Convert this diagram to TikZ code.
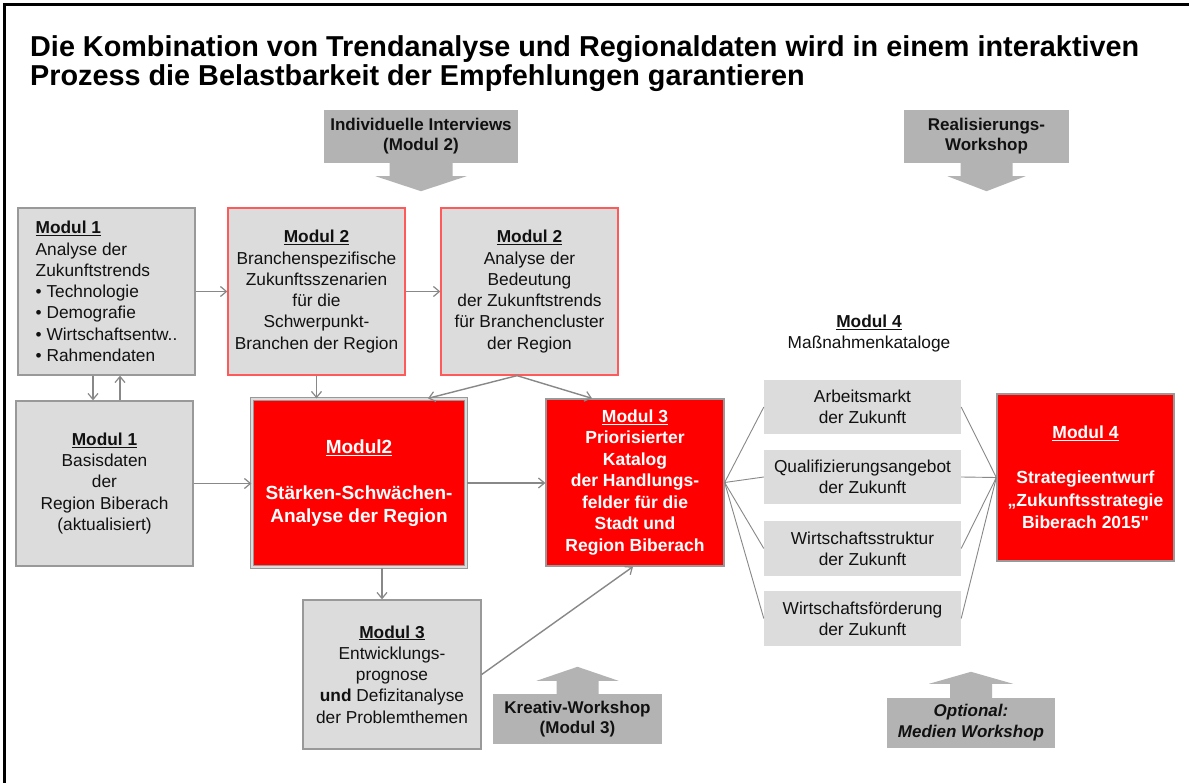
\documentclass[tikz,border=0pt]{standalone}
\usepackage{fontspec}
\setmainfont{Liberation Sans}
\newfontfamily\rawsans{Liberation Sans}
\usetikzlibrary{arrows.meta,calc}
\definecolor{boxgray}{HTML}{DCDCDC}
\definecolor{bordergray}{HTML}{999999}
\definecolor{conngray}{HTML}{888888}
\definecolor{wsgray}{HTML}{B3B3B3}
\definecolor{lightred}{HTML}{FF5A5A}
\definecolor{pured}{HTML}{FF0000}
\definecolor{txt}{HTML}{111111}
\newcommand{\myfs}[2]{\fontsize{#1}{#2}\selectfont}
\newcommand{\blockarrow}[6]{\fill[wsgray] ($(#1)+(-#2,{-1*(#6)})$) -- ($(#1)+(#2,{-1*(#6)})$) -- ($(#1)+(#2,{#4*(#6)})$) -- ($(#1)+(#3,{#4*(#6)})$) -- ($(#1)+(0,{#5*(#6)})$) -- ($(#1)+(-#3,{#4*(#6)})$) -- ($(#1)+(-#2,{#4*(#6)})$) -- cycle;}
\begin{document}
\begin{tikzpicture}[x=1pt,y=-1pt,
  base/.style={inner sep=0pt, align=center, text=txt, font=\myfs{17.3}{21.3}},
  gbox/.style={base, draw=bordergray, line width=1.3pt, fill=boxgray},
  rbox/.style={base, draw=lightred, line width=1.3pt, fill=boxgray},
  redbox/.style={base, draw=bordergray, line width=1.3pt, fill=pured, text=white, font=\bfseries\myfs{17.5}{21.5}},
  catbox/.style={base, fill=boxgray},
  wsbox/.style={base, fill=wsgray, font=\bfseries\myfs{17}{20}},
  conn/.style={draw=conngray, line width=1.4pt, -{Straight Barb[length=6pt,width=10pt,line width=1.2pt]}},
  thinl/.style={draw=conngray, line width=0.9pt},
  titlestyle/.style={anchor=base west, inner sep=0pt, text=black, font=\bfseries\myfs{28.8}{29}}
]
\useasboundingbox (0,0) rectangle (1189,783);
\fill[white] (0,0) rectangle (1189,783);
% frame
\draw[line width=3pt, black] (4.5,783) -- (4.5,5) -- (1189,5);
% title
\node[titlestyle] (t1) at (30,57) {Die Kombination von Trendanalyse und Regionaldaten wird in einem interaktiven};
\node[titlestyle] (t2) at (30,86) {Prozess die Belastbarkeit der Empfehlungen garantieren};

% workshop boxes
\node[wsbox, minimum width=194, minimum height=53] (iv) at (421,136.5) {Individuelle Interviews\\(Modul 2)};
\node[wsbox, minimum width=165, minimum height=53] (rw) at (986.5,136.5) {Realisierungs-\\Workshop};
\node[wsbox, minimum width=169, minimum height=50] (kw) at (577.5,719) {Kreativ-Workshop\\(Modul 3)};
\node[wsbox, minimum width=168, minimum height=50, font=\bfseries\itshape\myfs{17}{21}] (ow) at (971,723) {Optional:\\Medien Workshop};
\blockarrow{iv.south}{31.5}{45.5}{13}{28}{1}
\blockarrow{rw.south}{26}{39}{13}{28}{1}
\blockarrow{kw.north}{21}{41}{13}{27}{-1}
\blockarrow{ow.north}{21}{42}{14}{26}{-1}

% main boxes
\node[gbox, minimum width=177, minimum height=167, align=left] (m1a) at (106.5,291.5) {\underline{\textbf{Modul 1}}\\Analyse der\\Zukunftstrends\\• Technologie\\• Demografie\\• Wirtschaftsentw..\\• Rahmendaten};
\node[rbox, minimum width=177, minimum height=167] (m2a) at (316.5,291.5) {\underline{\textbf{Modul 2}}\\Branchenspezifische\\Zukunftsszenarien\\für die\\Schwerpunkt-\\Branchen der Region};
\node[rbox, minimum width=177, minimum height=167] (m2b) at (529.5,291.5) {\underline{\textbf{Modul 2}}\\Analyse der\\Bedeutung\\der Zukunftstrends\\für Branchencluster\\der Region};
\node[gbox, minimum width=177, minimum height=165] (m1b) at (104.5,483.5) {\underline{\textbf{Modul 1}}\\Basisdaten\\der\\Region Biberach\\(aktualisiert)};
\node[redbox, minimum width=214, minimum height=168, double=boxgray, double distance=2pt, font=\bfseries\myfs{19}{23}] (m2big) at (359,483) {\underline{Modul2}\\[23pt]Stärken-Schwächen-\\Analyse der Region};
\node[redbox, minimum width=178, minimum height=167] (m3r) at (635,482.5) {\underline{Modul 3}\\Priorisierter\\Katalog\\der Handlungs-\\felder für die\\Stadt und\\Region Biberach};
\node[gbox, minimum width=178, minimum height=149] (m3g) at (392,674.5) {\underline{\textbf{Modul 3}}\\Entwicklungs-\\prognose\\\textbf{und} Defizitanalyse\\der Problemthemen};
\node[base] (m4lbl) at (869,333.5) {\underline{\textbf{Modul 4}}\\Maßnahmenkataloge};
\node[catbox, minimum width=197, minimum height=54] (cat1) at (862.5,407) {Arbeitsmarkt\\der Zukunft};
\node[catbox, minimum width=197, minimum height=54] (cat2) at (862.5,477) {Qualifizierungsangebot\\der Zukunft};
\node[catbox, minimum width=197, minimum height=55] (cat3) at (862.5,548.5) {Wirtschaftsstruktur\\der Zukunft};
\node[catbox, minimum width=197, minimum height=55] (cat4) at (862.5,618.5) {Wirtschaftsförderung\\der Zukunft};
\node[redbox, minimum width=177, minimum height=167, font=\bfseries\myfs{17.5}{22.5}] (m4r) at (1085.5,477.5) {\underline{Modul 4}\\[22.5pt]Strategieentwurf\\„Zukunftsstrategie\\Biberach 2015{\rawsans\bfseries"}};

% connectors
\draw[conn] (m1a.east) -- (m1a.east -| m2a.west);
\draw[conn] (m2a.east) -- (m2a.east -| m2b.west);
\draw[conn] ([xshift=-13.5]m1a.south) -- ([xshift=-13.5]m1a.south |- m1b.north);
\draw[conn] ([xshift=13.5]m1a.south |- m1b.north) -- ([xshift=13.5]m1a.south);
\draw[conn] (m1b.east) -- (m1b.east -| m2big.west);
\draw[conn] (m2a.south) -- (m2a.south |- m2big.north);
\draw[conn] ([xshift=-12.5]m2b.south) -- ([xshift=69]m2big.north);
\draw[conn] ([xshift=-12.5]m2b.south) -- ([xshift=-43]m3r.north);
\draw[conn] (m2big.east) -- (m2big.east -| m3r.west);
\draw[conn] ([xshift=23]m2big.south) -- ([xshift=23]m2big.south |- m3g.north);
\draw[conn] (m3g.east) -- ([xshift=-2]m3r.south);
\foreach \c in {cat1,cat2,cat3,cat4} {
  \draw[thinl] (m3r.east) -- (\c.west);
  \draw[thinl] (\c.east) -- (m4r.west);
}
\end{tikzpicture}
\end{document}
